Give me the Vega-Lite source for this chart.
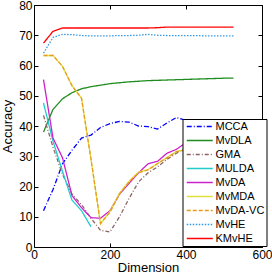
{
  "$schema": "https://vega.github.io/schema/vega-lite/v6.json",
  "width": 228,
  "height": 242,
  "autosize": "none",
  "padding": {"left": 34, "top": 5, "right": 10, "bottom": 28},
  "background": "white",
  "config": {
    "font": "Liberation Sans",
    "view": {"stroke": "black", "strokeWidth": 1},
    "axis": {
      "grid": false,
      "domainColor": "black",
      "tickColor": "black",
      "tickSize": -4,
      "labelColor": "black",
      "titleColor": "black",
      "labelFontSize": 12,
      "titleFontSize": 13,
      "titleFontWeight": "normal",
      "labelFont": "Liberation Sans",
      "titleFont": "Liberation Sans"
    },
    "legend": {
      "orient": "none",
      "legendX": 148.5,
      "legendY": 114,
      "fillColor": "white",
      "strokeColor": "black",
      "strokeWidth": 1,
      "padding": 2,
      "labelFontSize": 11,
      "labelColor": "black",
      "labelFont": "Liberation Sans",
      "symbolType": "M-1,0H7",
      "symbolSize": 42.25,
      "symbolStrokeWidth": 1.5,
      "rowPadding": 2,
      "labelOffset": 20,
      "title": null
    }
  },
  "datasets": {
    "d": [
      {"method": "MCCA", "dim": 25, "acc": 12},
      {"method": "MCCA", "dim": 50, "acc": 19},
      {"method": "MCCA", "dim": 75, "acc": 27.5},
      {"method": "MCCA", "dim": 100, "acc": 32},
      {"method": "MCCA", "dim": 125, "acc": 36},
      {"method": "MCCA", "dim": 150, "acc": 37},
      {"method": "MCCA", "dim": 175, "acc": 39.5},
      {"method": "MCCA", "dim": 200, "acc": 40.8},
      {"method": "MCCA", "dim": 225, "acc": 41.5},
      {"method": "MCCA", "dim": 250, "acc": 41.3},
      {"method": "MCCA", "dim": 275, "acc": 40},
      {"method": "MCCA", "dim": 300, "acc": 39.8},
      {"method": "MCCA", "dim": 325, "acc": 39},
      {"method": "MCCA", "dim": 350, "acc": 41},
      {"method": "MCCA", "dim": 375, "acc": 42.8},
      {"method": "MCCA", "dim": 400, "acc": 41.8},
      {"method": "MCCA", "dim": 425, "acc": 41.5},
      {"method": "MCCA", "dim": 450, "acc": 41.8},
      {"method": "MCCA", "dim": 475, "acc": 41.5},
      {"method": "MCCA", "dim": 500, "acc": 41.8},
      {"method": "MCCA", "dim": 525, "acc": 41.8},
      {"method": "MvDLA", "dim": 25, "acc": 38},
      {"method": "MvDLA", "dim": 50, "acc": 45.5},
      {"method": "MvDLA", "dim": 75, "acc": 49},
      {"method": "MvDLA", "dim": 100, "acc": 51},
      {"method": "MvDLA", "dim": 125, "acc": 52.3},
      {"method": "MvDLA", "dim": 150, "acc": 53},
      {"method": "MvDLA", "dim": 175, "acc": 53.5},
      {"method": "MvDLA", "dim": 200, "acc": 54},
      {"method": "MvDLA", "dim": 225, "acc": 54.3},
      {"method": "MvDLA", "dim": 250, "acc": 54.6},
      {"method": "MvDLA", "dim": 275, "acc": 54.8},
      {"method": "MvDLA", "dim": 300, "acc": 55},
      {"method": "MvDLA", "dim": 325, "acc": 55.1},
      {"method": "MvDLA", "dim": 350, "acc": 55.2},
      {"method": "MvDLA", "dim": 375, "acc": 55.3},
      {"method": "MvDLA", "dim": 400, "acc": 55.4},
      {"method": "MvDLA", "dim": 425, "acc": 55.5},
      {"method": "MvDLA", "dim": 450, "acc": 55.6},
      {"method": "MvDLA", "dim": 475, "acc": 55.7},
      {"method": "MvDLA", "dim": 500, "acc": 55.8},
      {"method": "MvDLA", "dim": 525, "acc": 55.8},
      {"method": "GMA", "dim": 25, "acc": 43.5},
      {"method": "GMA", "dim": 50, "acc": 33},
      {"method": "GMA", "dim": 75, "acc": 24},
      {"method": "GMA", "dim": 100, "acc": 17.5},
      {"method": "GMA", "dim": 125, "acc": 14},
      {"method": "GMA", "dim": 150, "acc": 9.5},
      {"method": "GMA", "dim": 175, "acc": 5.5},
      {"method": "GMA", "dim": 200, "acc": 5},
      {"method": "GMA", "dim": 225, "acc": 10},
      {"method": "GMA", "dim": 250, "acc": 16},
      {"method": "GMA", "dim": 275, "acc": 21.5},
      {"method": "GMA", "dim": 300, "acc": 24.5},
      {"method": "GMA", "dim": 325, "acc": 26.5},
      {"method": "GMA", "dim": 350, "acc": 29},
      {"method": "GMA", "dim": 375, "acc": 31},
      {"method": "GMA", "dim": 400, "acc": 33},
      {"method": "GMA", "dim": 425, "acc": 34},
      {"method": "GMA", "dim": 450, "acc": 35},
      {"method": "GMA", "dim": 475, "acc": 36},
      {"method": "GMA", "dim": 500, "acc": 37},
      {"method": "GMA", "dim": 525, "acc": 37.5},
      {"method": "MULDA", "dim": 25, "acc": 47.6},
      {"method": "MULDA", "dim": 50, "acc": 35},
      {"method": "MULDA", "dim": 75, "acc": 25},
      {"method": "MULDA", "dim": 100, "acc": 15.5},
      {"method": "MULDA", "dim": 125, "acc": 12},
      {"method": "MULDA", "dim": 150, "acc": 6.7},
      {"method": "MvDA", "dim": 25, "acc": 55.3},
      {"method": "MvDA", "dim": 50, "acc": 36},
      {"method": "MvDA", "dim": 75, "acc": 29.5},
      {"method": "MvDA", "dim": 100, "acc": 17},
      {"method": "MvDA", "dim": 125, "acc": 13},
      {"method": "MvDA", "dim": 150, "acc": 9.7},
      {"method": "MvDA", "dim": 175, "acc": 9.5},
      {"method": "MvDA", "dim": 200, "acc": 12},
      {"method": "MvDA", "dim": 225, "acc": 17.5},
      {"method": "MvDA", "dim": 250, "acc": 21},
      {"method": "MvDA", "dim": 275, "acc": 24.5},
      {"method": "MvDA", "dim": 300, "acc": 27.5},
      {"method": "MvDA", "dim": 325, "acc": 28.3},
      {"method": "MvDA", "dim": 350, "acc": 31},
      {"method": "MvDA", "dim": 375, "acc": 32.3},
      {"method": "MvDA", "dim": 400, "acc": 34.5},
      {"method": "MvDA", "dim": 425, "acc": 35.5},
      {"method": "MvDA", "dim": 450, "acc": 36.5},
      {"method": "MvDA", "dim": 475, "acc": 37.5},
      {"method": "MvDA", "dim": 500, "acc": 38.5},
      {"method": "MvDA", "dim": 525, "acc": 39},
      {"method": "MvMDA", "dim": 25, "acc": 63.3},
      {"method": "MvMDA", "dim": 50, "acc": 63.3},
      {"method": "MvMDA", "dim": 75, "acc": 59.7},
      {"method": "MvMDA", "dim": 100, "acc": 53.3},
      {"method": "MvMDA", "dim": 125, "acc": 49.2},
      {"method": "MvMDA", "dim": 150, "acc": 29},
      {"method": "MvMDA", "dim": 175, "acc": 7.6},
      {"method": "MvMDA", "dim": 200, "acc": 11.8},
      {"method": "MvMDA", "dim": 225, "acc": 17.8},
      {"method": "MvMDA", "dim": 250, "acc": 21.7},
      {"method": "MvMDA", "dim": 275, "acc": 24.8},
      {"method": "MvMDA", "dim": 300, "acc": 25.6},
      {"method": "MvMDA", "dim": 325, "acc": 27.6},
      {"method": "MvMDA", "dim": 350, "acc": 29.6},
      {"method": "MvMDA", "dim": 375, "acc": 31.6},
      {"method": "MvMDA", "dim": 400, "acc": 32.2},
      {"method": "MvMDA", "dim": 425, "acc": 33.2},
      {"method": "MvMDA", "dim": 450, "acc": 34.2},
      {"method": "MvMDA", "dim": 475, "acc": 35.2},
      {"method": "MvMDA", "dim": 500, "acc": 36.2},
      {"method": "MvMDA", "dim": 525, "acc": 36.7},
      {"method": "MvDA-VC", "dim": 25, "acc": 63.3},
      {"method": "MvDA-VC", "dim": 50, "acc": 63.3},
      {"method": "MvDA-VC", "dim": 75, "acc": 59.7},
      {"method": "MvDA-VC", "dim": 100, "acc": 53.3},
      {"method": "MvDA-VC", "dim": 125, "acc": 49.2},
      {"method": "MvDA-VC", "dim": 150, "acc": 29},
      {"method": "MvDA-VC", "dim": 175, "acc": 7.8},
      {"method": "MvDA-VC", "dim": 200, "acc": 11.5},
      {"method": "MvDA-VC", "dim": 225, "acc": 17.5},
      {"method": "MvDA-VC", "dim": 250, "acc": 21.5},
      {"method": "MvDA-VC", "dim": 275, "acc": 24.5},
      {"method": "MvDA-VC", "dim": 300, "acc": 25.5},
      {"method": "MvDA-VC", "dim": 325, "acc": 27.5},
      {"method": "MvDA-VC", "dim": 350, "acc": 29.5},
      {"method": "MvDA-VC", "dim": 375, "acc": 31.5},
      {"method": "MvDA-VC", "dim": 400, "acc": 32},
      {"method": "MvDA-VC", "dim": 425, "acc": 33},
      {"method": "MvDA-VC", "dim": 450, "acc": 34},
      {"method": "MvDA-VC", "dim": 475, "acc": 35},
      {"method": "MvDA-VC", "dim": 500, "acc": 36},
      {"method": "MvDA-VC", "dim": 525, "acc": 36.5},
      {"method": "MvHE", "dim": 25, "acc": 64.1},
      {"method": "MvHE", "dim": 50, "acc": 69.3},
      {"method": "MvHE", "dim": 75, "acc": 70.3},
      {"method": "MvHE", "dim": 100, "acc": 70.2},
      {"method": "MvHE", "dim": 125, "acc": 69.9},
      {"method": "MvHE", "dim": 150, "acc": 69.8},
      {"method": "MvHE", "dim": 175, "acc": 69.8},
      {"method": "MvHE", "dim": 200, "acc": 69.8},
      {"method": "MvHE", "dim": 225, "acc": 69.9},
      {"method": "MvHE", "dim": 250, "acc": 69.9},
      {"method": "MvHE", "dim": 275, "acc": 70},
      {"method": "MvHE", "dim": 300, "acc": 70.3},
      {"method": "MvHE", "dim": 325, "acc": 70},
      {"method": "MvHE", "dim": 350, "acc": 69.9},
      {"method": "MvHE", "dim": 375, "acc": 69.9},
      {"method": "MvHE", "dim": 400, "acc": 69.9},
      {"method": "MvHE", "dim": 425, "acc": 69.9},
      {"method": "MvHE", "dim": 450, "acc": 69.8},
      {"method": "MvHE", "dim": 475, "acc": 69.8},
      {"method": "MvHE", "dim": 500, "acc": 69.8},
      {"method": "MvHE", "dim": 525, "acc": 69.8},
      {"method": "KMvHE", "dim": 25, "acc": 67.4},
      {"method": "KMvHE", "dim": 50, "acc": 71.3},
      {"method": "KMvHE", "dim": 75, "acc": 72.4},
      {"method": "KMvHE", "dim": 100, "acc": 72.4},
      {"method": "KMvHE", "dim": 125, "acc": 72.4},
      {"method": "KMvHE", "dim": 150, "acc": 72.4},
      {"method": "KMvHE", "dim": 175, "acc": 72.4},
      {"method": "KMvHE", "dim": 200, "acc": 72.4},
      {"method": "KMvHE", "dim": 225, "acc": 72.4},
      {"method": "KMvHE", "dim": 250, "acc": 72.4},
      {"method": "KMvHE", "dim": 275, "acc": 72.4},
      {"method": "KMvHE", "dim": 300, "acc": 72.4},
      {"method": "KMvHE", "dim": 325, "acc": 72.5},
      {"method": "KMvHE", "dim": 350, "acc": 72.7},
      {"method": "KMvHE", "dim": 375, "acc": 72.7},
      {"method": "KMvHE", "dim": 400, "acc": 72.7},
      {"method": "KMvHE", "dim": 425, "acc": 72.7},
      {"method": "KMvHE", "dim": 450, "acc": 72.7},
      {"method": "KMvHE", "dim": 475, "acc": 72.7},
      {"method": "KMvHE", "dim": 500, "acc": 72.7},
      {"method": "KMvHE", "dim": 525, "acc": 72.7}
    ]
  },
  "data": {"name": "d"},
  "layer": [
    {
      "mark": {"type": "line", "strokeWidth": 1.3},
      "encoding": {
        "x": {
          "field": "dim", "type": "quantitative",
          "scale": {"domain": [0, 600], "nice": false},
          "axis": {"values": [0, 200, 400, 600], "title": "Dimension", "labelPadding": 6, "labelFlush": false, "labelBaseline": "top", "titlePadding": 1, "domain": false}
        },
        "y": {
          "field": "acc", "type": "quantitative",
          "scale": {"domain": [0, 80], "nice": false},
          "axis": {"values": [0, 10, 20, 30, 40, 50, 60, 70, 80], "title": "Accuracy", "labelPadding": 6, "titlePadding": 4, "domain": false}
        },
        "color": {
          "field": "method", "type": "nominal",
          "scale": {
            "domain": ["MCCA", "MvDLA", "GMA", "MULDA", "MvDA", "MvMDA", "MvDA-VC", "MvHE", "KMvHE"],
            "range": ["#0000ff", "#1e8c1e", "#8c6464", "#22cccc", "#cc22cc", "#e0e040", "#e89a20", "#3399e6", "#ff0000"]
          }
        },
        "strokeDash": {
          "field": "method", "type": "nominal",
          "scale": {
            "domain": ["MCCA", "MvDLA", "GMA", "MULDA", "MvDA", "MvMDA", "MvDA-VC", "MvHE", "KMvHE"],
            "range": [[5, 2, 1, 2], [1, 0], [4, 2, 1, 2], [1, 0], [1, 0], [1, 0], [4, 2], [1.5, 1.5], [1, 0]]
          }
        }
      }
    },
    {
      "mark": {"type": "point", "opacity": 0},
      "encoding": {
        "x": {
          "field": "dim", "type": "quantitative",
          "scale": {"domain": [0, 600], "nice": false},
          "axis": {"orient": "top", "values": [0, 200, 400, 600], "labels": false, "title": null, "domain": false}
        },
        "y": {
          "field": "acc", "type": "quantitative",
          "scale": {"domain": [0, 80], "nice": false},
          "axis": {"orient": "right", "values": [0, 10, 20, 30, 40, 50, 60, 70, 80], "labels": false, "title": null, "domain": false}
        }
      }
    }
  ],
  "resolve": {"axis": {"x": "independent", "y": "independent"}}
}
